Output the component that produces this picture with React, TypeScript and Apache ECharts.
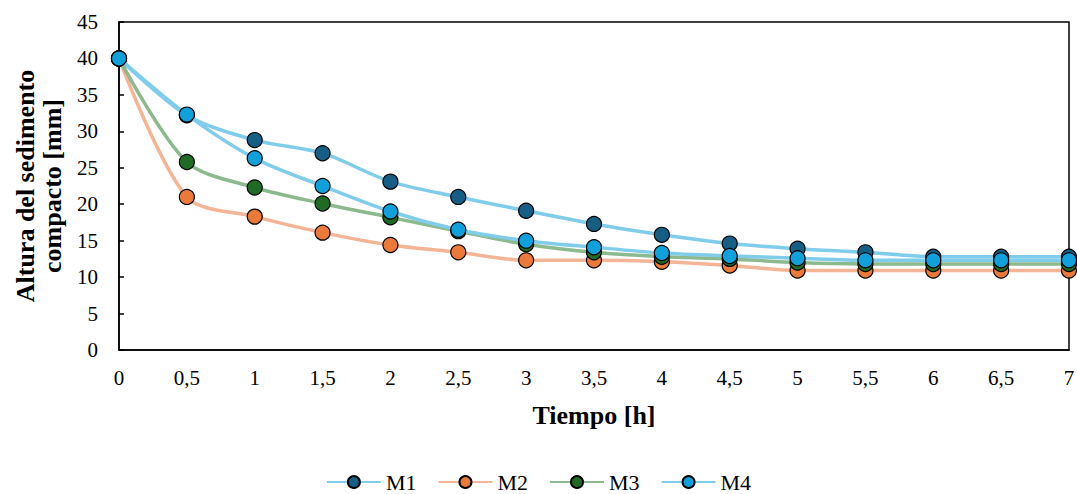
import React, { useEffect, useRef } from "react";
import * as echarts from "echarts";

const times = [0, 0.5, 1, 1.5, 2, 2.5, 3, 3.5, 4, 4.5, 5, 5.5, 6, 6.5, 7];
const m1 = [40, 32.2, 28.8, 27.0, 23.1, 21.0, 19.1, 17.3, 15.8, 14.6, 13.9, 13.4, 12.8, 12.8, 12.8];
const m2 = [40, 21.0, 18.3, 16.1, 14.4, 13.4, 12.3, 12.3, 12.1, 11.6, 10.9, 10.9, 10.9, 10.9, 10.9];
const m3 = [40, 25.8, 22.3, 20.1, 18.2, 16.3, 14.5, 13.4, 12.8, 12.5, 12.0, 11.8, 11.8, 11.8, 11.8];
const m4 = [40, 32.3, 26.3, 22.5, 19.0, 16.5, 15.0, 14.1, 13.3, 12.9, 12.6, 12.3, 12.3, 12.3, 12.3];
const seriesNames = ["M1", "M2", "M3", "M4"];
const markerColors = ["#175E84", "#E97A3A", "#1F6B25", "#12A0DA"];
const lineColors = ["#80CCEB", "#F4B597", "#8DB98E", "#80CCEB"];

const FONT = "'Times New Roman', 'Liberation Serif', serif";

export default function App() {
  const ref = useRef<HTMLDivElement>(null);
  useEffect(() => {
    if (!ref.current) return;
    const chart = echarts.init(ref.current, null, { renderer: "svg" });
    const all = [m1, m2, m3, m4];
    chart.setOption({
      animation: false,
      backgroundColor: "#ffffff",
      textStyle: { fontFamily: FONT },
      grid: {
        left: 119, right: 8, top: 22, bottom: 144,
        outerBoundsMode: "none", containLabel: false,
        show: true, borderColor: "#000", borderWidth: 1.5,
      },
      legend: {
        top: 466,
        left: "center",
        itemWidth: 54,
        itemHeight: 15,
        itemGap: 21,
        textStyle: { fontFamily: FONT, fontSize: 22, color: "#000" },
        data: seriesNames,
      },
      xAxis: {
        type: "value",
        min: 0,
        max: 7,
        interval: 0.5,
        name: "Tiempo [h]",
        nameLocation: "middle",
        nameGap: 52,
        nameTextStyle: { fontFamily: FONT, fontSize: 26, fontWeight: "bold", color: "#000" },
        axisLine: { show: true, lineStyle: { color: "#000", width: 1.5 } },
        axisTick: { show: false },
        splitLine: { show: false },
        axisLabel: {
          margin: 17,
          fontFamily: FONT,
          fontSize: 21,
          color: "#000",
          formatter: (v: number) => String(v).replace(".", ","),
        },
      },
      yAxis: {
        type: "value",
        min: 0,
        max: 45,
        interval: 5,
        name: "Altura del sedimento\ncompacto [mm]",
        nameLocation: "middle",
        nameGap: 46,
        nameTextStyle: { fontFamily: FONT, fontSize: 26, fontWeight: "bold", color: "#000", lineHeight: 27 },
        axisLine: { show: true, lineStyle: { color: "#000", width: 1.5 } },
        axisTick: { show: true, inside: true, length: 5, lineStyle: { color: "#000", width: 1.5 } },
        splitLine: { show: false },
        axisLabel: { margin: 21, fontFamily: FONT, fontSize: 21, color: "#000" },
      },
      series: all.map((vals, i) => ({
        name: seriesNames[i],
        type: "line",
        smooth: 0.3,
        data: times.map((t, j) => [t, vals[j]]),
        symbol: "circle",
        symbolSize: 15,
        lineStyle: { color: lineColors[i], width: 3.5 },
        itemStyle: { color: markerColors[i], borderColor: "#000", borderWidth: 1.2 },
        z: 2 + i,
      })),
    });
    return () => chart.dispose();
  }, []);
  return <div ref={ref} style={{ position: "fixed", left: 0, top: 0, width: 1077, height: 494 }} />;
}
